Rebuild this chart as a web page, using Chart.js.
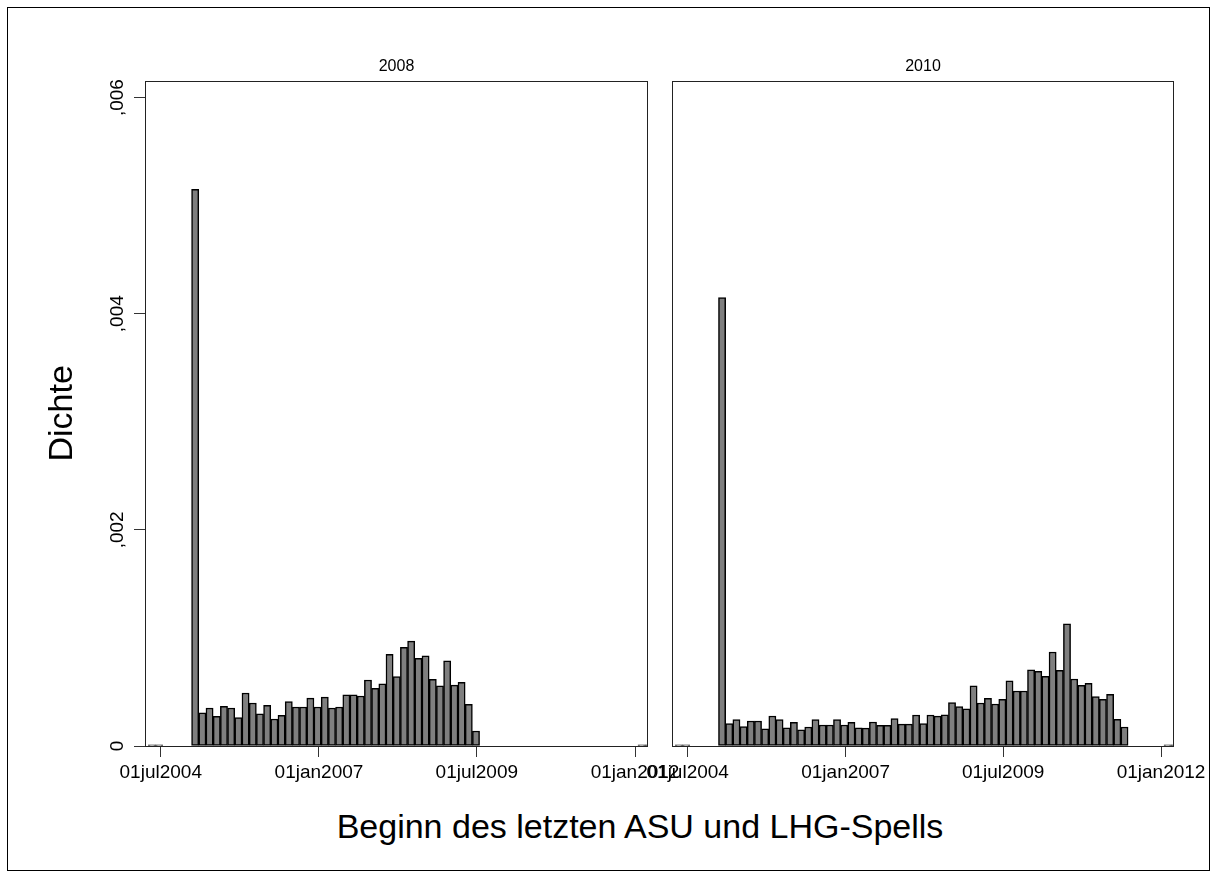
<!DOCTYPE html>
<html>
<head>
<meta charset="utf-8">
<script src="https://cdn.jsdelivr.net/npm/chart.js@4.4.1/dist/chart.umd.min.js"></script>
<style>
  html, body { margin: 0; padding: 0; background: #fff; }
  body { width: 1216px; height: 877px; position: relative; overflow: hidden; font-family: "Liberation Sans", Arial, sans-serif; }
  #frame { position: absolute; left: 7px; top: 7px; width: 1201px; height: 862px; border: 1px solid #000; }
  canvas { position: absolute; top: 0; }
  #leftChart { left: 0; }
  #rightChart { left: 620px; }
  #xTitle { position: absolute; left: 0; width: 1280px; top: 806px; text-align: center; font-size: 34px; line-height: 40px; color: #000; }
</style>
</head>
<body>
<div id="frame"></div>
<canvas id="leftChart" width="700" height="800"></canvas>
<canvas id="rightChart" width="596" height="800"></canvas>
<div id="xTitle">Beginn des letzten ASU und LHG-Spells</div>

<script>
// Histogram of spell start dates, x in days since 01jul2004
const binStartDay = 178;   // first bin begins around end of Dec 2004
const binWidth = 41.6;     // days per bin

const panelTitles = ['2008', '2010'];

const density2008 = [
  0.00515, 0.000307, 0.000352, 0.000275, 0.000366, 0.000352, 0.000264, 0.00049,
  0.000398, 0.000298, 0.000377, 0.00025, 0.000284, 0.00041, 0.000361, 0.000361,
  0.000443, 0.000361, 0.000452, 0.000352, 0.000361, 0.000473, 0.000473, 0.000463,
  0.000611, 0.000534, 0.000575, 0.000849, 0.000642, 0.000912, 0.00097, 0.000812,
  0.000835, 0.000618, 0.000556, 0.000788, 0.000563, 0.000588, 0.000386, 0.000139
];

const density2010 = [
  0.00415, 0.000207, 0.000244, 0.000179, 0.000231, 0.000231, 0.00016, 0.000278,
  0.000244, 0.000167, 0.000219, 0.00015, 0.000176, 0.000244, 0.000194, 0.000194,
  0.000244, 0.000194, 0.000219, 0.000167, 0.000166, 0.000222, 0.000191, 0.000191,
  0.000253, 0.000203, 0.000203, 0.000287, 0.000207, 0.000287, 0.000277, 0.000289,
  0.000401, 0.000364, 0.000343, 0.000556, 0.000398, 0.000441, 0.000389, 0.000432,
  0.000602, 0.000509, 0.000509, 0.000704, 0.000691, 0.000645, 0.00087, 0.000701,
  0.00113, 0.00062, 0.000562, 0.00058, 0.000457, 0.000432, 0.000478, 0.000247,
  0.000176
];

// nearly empty bins at both ends of the date range
const edgeBins = [-6, -5, 62, 63];
const edgeDensity = 0.00001;

const tickDays = [0, 914, 1826, 2740];
const tickLabels = ['01jul2004', '01jan2007', '01jul2009', '01jan2012'];
const yTicks = [0, 0.002, 0.004, 0.006];

const xMin = -91;
const xMax = 2815;
const yMax = 0.006157;

const fontFamily = '"Liberation Sans", Arial, sans-serif';

const formatDensity = v => v === 0 ? '0' : ',' + String(Math.round(v * 1000)).padStart(3, '0');

const binCenter = i => binStartDay + (i + 0.5) * binWidth;

const toPoints = values => {
  const pts = edgeBins.map(i => ({ x: binCenter(i), y: edgeDensity }));
  values.forEach((v, i) => pts.push({ x: binCenter(i), y: v }));
  return pts.sort((a, b) => a.x - b.x);
};

// box around the plot region
const panelBox = {
  id: 'panelBox',
  afterDatasetsDraw(chart) {
    const { ctx, chartArea: a } = chart;
    ctx.save();
    ctx.strokeStyle = '#222';
    ctx.lineWidth = 1;
    ctx.strokeRect(Math.round(a.left) + 0.5, Math.round(a.top) + 0.5,
      Math.round(a.right - a.left) - 1, Math.round(a.bottom - a.top));
    ctx.restore();
  }
};

// vertical density labels like ",002"
const yTickLabels = {
  id: 'yTickLabels',
  afterDraw(chart) {
    const { ctx } = chart;
    const y = chart.scales.y;
    ctx.save();
    ctx.font = '19px ' + fontFamily;
    ctx.fillStyle = '#000';
    ctx.textAlign = 'center';
    ctx.textBaseline = 'alphabetic';
    yTicks.forEach(v => {
      ctx.save();
      ctx.translate(y.left + 123, y.getPixelForValue(v));
      ctx.rotate(-Math.PI / 2);
      ctx.fillText(formatDensity(v), 0, 0);
      ctx.restore();
    });
    ctx.restore();
  }
};

const makeChart = (canvasId, title, values, isLeft) => {
  const plugins = [panelBox];
  if (isLeft) plugins.push(yTickLabels);

  return new Chart(document.getElementById(canvasId), {
    type: 'bar',
    data: {
      datasets: [{
        data: toPoints(values),
        backgroundColor: '#7f7f7f',
        borderColor: '#000',
        borderWidth: 1.5,
        borderSkipped: false,
        barPercentage: 1,
        categoryPercentage: 1
      }]
    },
    options: {
      responsive: false,
      animation: false,
      events: [],
      layout: {
        padding: isLeft ? { left: 0, right: 52, top: 0, bottom: 0 } : { left: 0, right: 42, top: 0, bottom: 0 }
      },
      plugins: {
        legend: { display: false },
        tooltip: { enabled: false },
        title: {
          display: true,
          text: title,
          fullSize: false,
          color: '#000',
          font: { family: fontFamily, size: 16, weight: 'normal' },
          padding: { top: 57, bottom: 4.4 }
        }
      },
      scales: {
        x: {
          type: 'linear',
          min: xMin,
          max: xMax,
          offset: false,
          border: { display: false },
          grid: { drawOnChartArea: false, drawTicks: true, tickLength: 11, color: '#333', offset: false },
          afterBuildTicks: scale => { scale.ticks = tickDays.map(v => ({ value: v })); },
          afterFit: scale => { scale.height = 54; },
          ticks: {
            autoSkip: false,
            maxRotation: 0,
            padding: 4,
            color: '#000',
            font: { family: fontFamily, size: 19 },
            callback: value => tickLabels[tickDays.indexOf(value)]
          }
        },
        y: {
          min: 0,
          max: yMax,
          border: { display: false },
          grid: { drawOnChartArea: false, drawTicks: isLeft, tickLength: 11, color: '#333' },
          afterBuildTicks: scale => { scale.ticks = yTicks.map(v => ({ value: v })); },
          afterFit: scale => { scale.width = isLeft ? 145 : 52; },
          ticks: { display: false },
          title: {
            display: isLeft,
            text: 'Dichte',
            color: '#000',
            font: { family: fontFamily, size: 34 },
            padding: { top: 42, bottom: 0 }
          }
        }
      }
    },
    plugins
  });
};

makeChart('leftChart', panelTitles[0], density2008, true);
makeChart('rightChart', panelTitles[1], density2010, false);
</script>
</body>
</html>
